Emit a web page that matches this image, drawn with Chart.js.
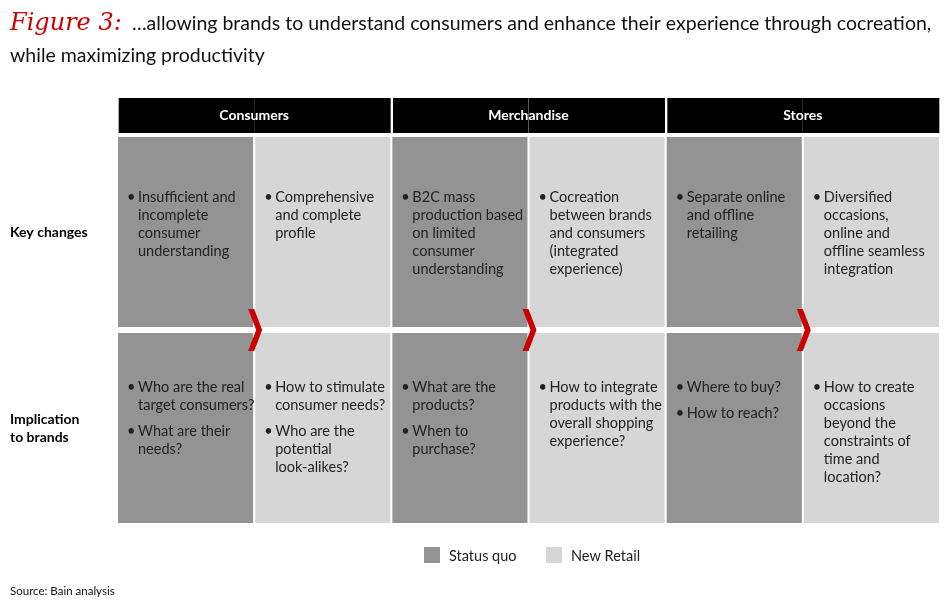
<!doctype html>
<html>
<head>
<meta charset="utf-8">
<title>Figure 3</title>
<script src="https://cdn.jsdelivr.net/npm/chart.js"></script>
<style>
  body { margin: 0; background: #fff; }
  #wrap { width: 950px; height: 610px; }
</style>
</head>
<body>
<div id="wrap"><canvas id="fig"></canvas></div>
<script>
// columns: each group has a "status quo" and a "new retail" cell
var groups = ["Consumers", "Merchandise", "Stores"];
var columns = ["c-sq", "c-nr", "m-sq", "m-nr", "s-sq", "s-nr"];
var rowLabels = [["Key changes"], ["Implication", "to brands"]];
var headerRange = [98, 133];
var rowRanges = [[137, 327], [333, 523]];

// bullet texts per row, per column (each bullet is a list of lines)
var keyChanges = [
  [["Insufficient and", "incomplete", "consumer", "understanding"]],
  [["Comprehensive", "and complete", "profile"]],
  [["B2C mass", "production based", "on limited", "consumer", "understanding"]],
  [["Cocreation", "between brands", "and consumers", "(integrated", "experience)"]],
  [["Separate online", "and offline", "retailing"]],
  [["Diversified", "occasions,", "online and", "offline seamless", "integration"]]
];
var implications = [
  [["Who are the real", "target consumers?"], ["What are their", "needs?"]],
  [["How to stimulate", "consumer needs?"], ["Who are the", "potential", "look-alikes?"]],
  [["What are the", "products?"], ["When to", "purchase?"]],
  [["How to integrate", "products with the", "overall shopping", "experience?"]],
  [["Where to buy?"], ["How to reach?"]],
  [["How to create", "occasions", "beyond the", "constraints of", "time and", "location?"]]
];
var legendLabels = ["Status quo", "New Retail"];

var DARK = "#939393", LIGHT = "#d6d6d6";
var FONT = "Lato, sans-serif";

var cellColors = columns.map(function (c, i) { return i % 2 === 0 ? DARK : LIGHT; });

var textPlugin = {
  id: "texts",
  afterDatasetsDraw: function (chart) {
    var ctx = chart.ctx, xs = chart.scales.x, ys = chart.scales.y;
    var meta = chart.getDatasetMeta(1);
    ctx.save();
    ctx.textBaseline = "middle";

    // headers
    ctx.fillStyle = "#fff";
    ctx.font = "bold 14px " + FONT;
    ctx.textAlign = "center";
    var hy = (ys.getPixelForValue(headerRange[0]) + ys.getPixelForValue(headerRange[1])) / 2;
    groups.forEach(function (g, i) {
      var cx = (xs.getPixelForValue(i * 2) + xs.getPixelForValue(i * 2 + 1)) / 2;
      ctx.fillText(g, cx, hy);
    });

    // row labels
    ctx.fillStyle = "#000";
    ctx.textAlign = "left";
    rowLabels.forEach(function (lines, r) {
      var cy = (ys.getPixelForValue(rowRanges[r][0]) + ys.getPixelForValue(rowRanges[r][1])) / 2;
      var y0 = cy - (lines.length - 1) * 9;
      lines.forEach(function (l, k) { ctx.fillText(l, 10, y0 + k * 18); });
    });

    // cell bullets
    ctx.font = "14.5px " + FONT;
    ctx.fillStyle = "#222";
    [keyChanges, implications].forEach(function (rowData, r) {
      var top = ys.getPixelForValue(rowRanges[r][0]) + (r === 0 ? 60 : 54);
      rowData.forEach(function (bullets, c) {
        var bar = chart.getDatasetMeta(1 + r).data[c];
        var left = bar.x - bar.width / 2;
        var y = top;
        bullets.forEach(function (lines) {
          ctx.fillText("•", left + 9, y);
          lines.forEach(function (l) { ctx.fillText(l, left + 20, y); y += 18; });
          y += 8;
        });
      });
    });

    // chevrons between status quo and new retail
    var cy = (ys.getPixelForValue(rowRanges[0][1]) + ys.getPixelForValue(rowRanges[1][0])) / 2;
    ctx.fillStyle = "#cc0000";
    for (var g = 0; g < 3; g++) {
      var b1 = meta.data[g * 2], b2 = meta.data[g * 2 + 1];
      var bx = ((b1.x + b1.width / 2) + (b2.x - b2.width / 2)) / 2 - 6;
      ctx.beginPath();
      ctx.moveTo(bx, cy - 21);
      ctx.lineTo(bx + 6, cy - 21);
      ctx.lineTo(bx + 14, cy);
      ctx.lineTo(bx + 6, cy + 21);
      ctx.lineTo(bx, cy + 21);
      ctx.lineTo(bx + 8, cy);
      ctx.closePath();
      ctx.fill();
    }

    // legend
    ctx.font = "14.5px " + FONT;
    ctx.fillStyle = DARK;
    ctx.fillRect(424, 547, 16, 16);
    ctx.fillStyle = LIGHT;
    ctx.fillRect(546, 547, 16, 16);
    ctx.fillStyle = "#222";
    ctx.fillText(legendLabels[0], 449, 556);
    ctx.fillText(legendLabels[1], 571, 556);

    // title and source
    ctx.fillStyle = "#cc0000";
    ctx.font = "italic 24px 'DejaVu Serif', serif";
    ctx.fillText("Figure 3:", 10, 24);
    ctx.fillStyle = "#111";
    ctx.font = "19.5px " + FONT;
    ctx.fillText("…allowing brands to understand consumers and enhance their experience through cocreation,", 132, 24);
    ctx.fillText("while maximizing productivity", 10, 56);
    ctx.font = "11.5px " + FONT;
    ctx.fillText("Source: Bain analysis", 10, 591);
    ctx.restore();
  }
};

new Chart(document.getElementById("fig"), {
  type: "bar",
  data: {
    labels: columns,
    datasets: [
      {
        data: columns.map(function () { return headerRange; }),
        backgroundColor: "#000",
        borderColor: "#fff",
        borderSkipped: false,
        borderWidth: function (c) { return c.dataIndex % 2 === 0 ? { left: 2, right: 0, top: 0, bottom: 0 } : { left: 0, right: 1, top: 0, bottom: 0 }; },
        grouped: false,
        barPercentage: 1,
        categoryPercentage: 1
      },
      {
        data: columns.map(function () { return rowRanges[0]; }),
        backgroundColor: cellColors,
        grouped: false,
        barPercentage: 0.985,
        categoryPercentage: 1
      },
      {
        data: columns.map(function () { return rowRanges[1]; }),
        backgroundColor: cellColors,
        grouped: false,
        barPercentage: 0.985,
        categoryPercentage: 1
      }
    ]
  },
  options: {
    responsive: true,
    maintainAspectRatio: false,
    animation: false,
    layout: { padding: { left: 117, right: 10, top: 98, bottom: 87 } },
    plugins: { legend: { display: false }, tooltip: { enabled: false } },
    scales: {
      x: { display: false, offset: true },
      y: { display: false, reverse: true, min: headerRange[0], max: rowRanges[1][1] }
    }
  },
  plugins: [textPlugin]
});
</script>
</body>
</html>
